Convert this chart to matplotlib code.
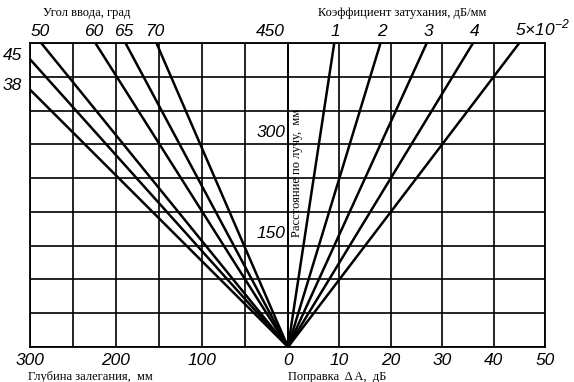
import matplotlib
matplotlib.use("Agg")
import matplotlib.pyplot as plt

# ---- data ----
depth_ticks = [300, 200, 100, 0]                 # labelled depth values, mm
correction_ticks = [0, 10, 20, 30, 40, 50]       # ΔA, dB
distance_labels = [150, 300, 450]                # distance along beam, mm

# angle lines reaching the top edge (distance 450): depth at the top
angles_top = ["50", "60", "65", "70"]
angles_top_depth = [287, 224, 189, 153]
# angle lines reaching the left edge (depth 300): distance at the edge
angles_side = ["45", "38"]
angles_side_dist = [426, 381]

# attenuation lines: ΔA at distance 450
atten_labels = ["1", "2", "3", "4", "5"]
atten_top_dA = [9, 18, 27, 36, 45]

W, H = 574, 382
fig = plt.figure(figsize=(W / 100, H / 100), dpi=100)
fig.patch.set_facecolor("white")

def fx(x):
    return x / W

def fy(y):
    return 1 - y / H

x0, xm, x1 = 30, 288, 545
ytop, ybot = 43, 347
axL = fig.add_axes([fx(x0), fy(ybot), (xm - x0) / W, (ybot - ytop) / H])
axR = fig.add_axes([fx(xm), fy(ybot), (x1 - xm) / W, (ybot - ytop) / H])

axL.set_xlim(300, 0)
axR.set_xlim(0, 50)
for ax in (axL, axR):
    ax.set_ylim(0, 450)
    ax.set_facecolor("none")
    for s in ax.spines.values():
        s.set_linewidth(1.3)
        s.set_color("black")
    ax.set_yticks(range(0, 451, 50))
    ax.tick_params(length=0, labelbottom=False, labelleft=False)
    ax.grid(True, color="black", linewidth=1.2)
axL.set_xticks(range(0, 301, 50))
axR.set_xticks(range(0, 51, 10))

LW = 1.8
for d in angles_top_depth:
    axL.plot([0, d], [0, 450], color="black", lw=LW, solid_capstyle="butt")
for r in angles_side_dist:
    axL.plot([0, 300], [0, r], color="black", lw=LW, solid_capstyle="butt")
for v in atten_top_dA:
    axR.plot([0, v], [0, 450], color="black", lw=LW, solid_capstyle="butt")

numfont = dict(family=["Liberation Sans", "DejaVu Sans"], style="italic",
               fontsize=12.5, color="black")
serif = dict(family=["Liberation Serif", "DejaVu Serif"], fontsize=9, color="black")

# angle labels on top
for lab, d in zip(angles_top, angles_top_depth):
    axL.annotate(lab, (d, 450), xytext=(-1, 3), textcoords="offset points",
                 ha="center", va="bottom", **numfont)
for lab, r in zip(angles_side, angles_side_dist):
    axL.annotate(lab, (300, r), xytext=(-6, 3), textcoords="offset points",
                 ha="right", va="center", **numfont)

# attenuation labels on top
for lab, v in zip(atten_labels[:-1], atten_top_dA[:-1]):
    axR.annotate(lab, (v, 450), xytext=(1, 3), textcoords="offset points",
                 ha="center", va="bottom", **numfont)
axR.annotate(atten_labels[-1] + "×10$^{\\mathregular{-2}}$", (atten_top_dA[-1], 450),
             xytext=(-3, 3), textcoords="offset points", ha="left", va="bottom", **numfont)

# distance labels along the centre line
for d in distance_labels:
    axL.annotate(str(d), (0, d), xytext=(-2, 3), textcoords="offset points",
                 ha="right", va="bottom", **numfont)

# bottom labels
for d in depth_ticks:
    axL.annotate(str(d), (d, 0), xytext=(0, -4), textcoords="offset points",
                 ha="center", va="top", **numfont)
for v in correction_ticks[1:]:
    axR.annotate(str(v), (v, 0), xytext=(0, -4), textcoords="offset points",
                 ha="center", va="top", **numfont)

# axis titles
fig.text(fx(43), fy(13), "Угол ввода, град", ha="left", va="center", **serif)
fig.text(fx(318), fy(13), "Коэффициент затухания, дБ/мм", ha="left", va="center", **serif)
fig.text(fx(28), fy(377), "Глубина залегания,  мм", ha="left", va="center", **serif)
fig.text(fx(288), fy(377), "Поправка  Δ A,  дБ", ha="left", va="center", **serif)
fig.text(fx(297), fy(173), "Расстояние по лучу,  мм", ha="center", va="center",
         rotation=90, **serif)

fig.savefig("out.png", dpi=100, facecolor="white")
